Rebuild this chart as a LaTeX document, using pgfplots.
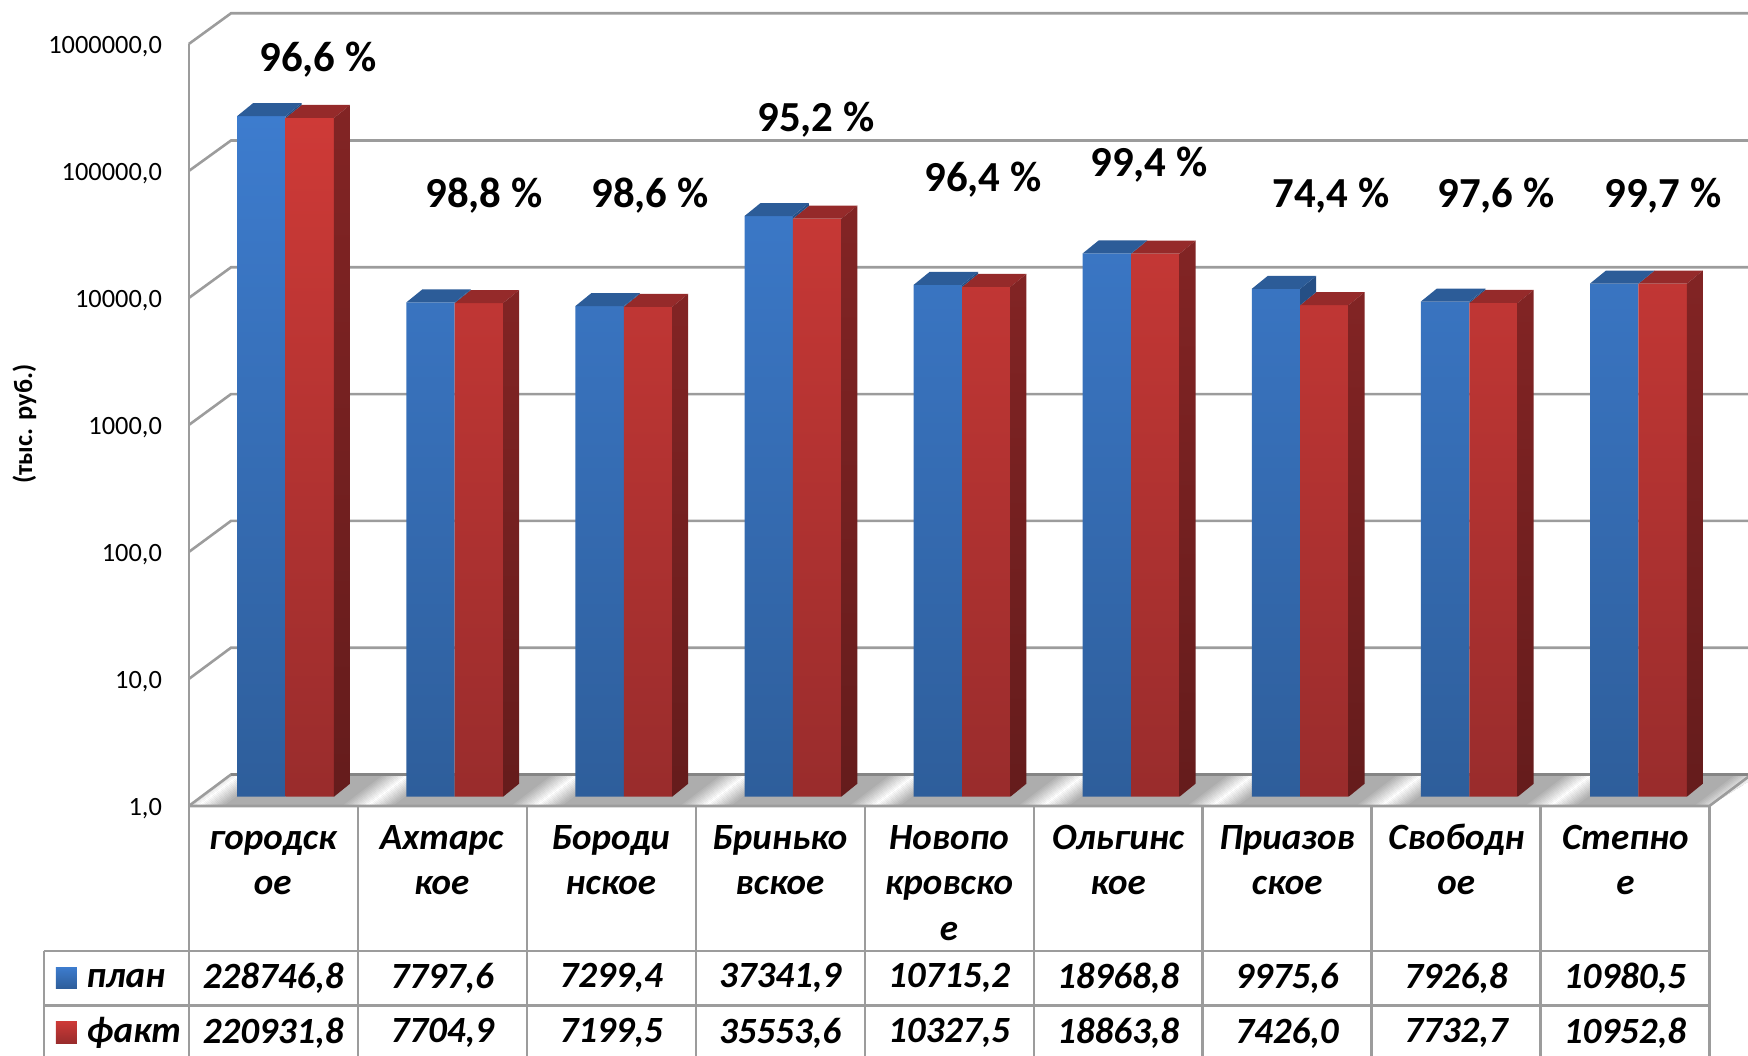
\documentclass[border=0pt]{standalone}
\usepackage{fontspec}
\setmainfont{Carlito}
\usepackage{pgfplots}
\usepackage{pgfplotstable}
\pgfplotsset{compat=1.18}
\definecolor{gridg}{HTML}{9C9C9C}
\definecolor{floorg}{HTML}{ADADAD}
\definecolor{btop}{HTML}{3D7CCE}
\definecolor{bbot}{HTML}{2E5E9B}
\definecolor{rtop}{HTML}{CE3A37}
\definecolor{rbot}{HTML}{992C2C}
\definecolor{bcap}{HTML}{2C5C98}
\definecolor{bside}{HTML}{254F85}
\definecolor{rcap}{HTML}{952A2A}
\definecolor{rsidet}{HTML}{822424}
\definecolor{rsideb}{HTML}{651C1C}
\pgfplotstableread{
i plan fact
0 228746.8 220931.8
1 7797.6 7704.9
2 7299.4 7199.5
3 37341.9 35553.6
4 10715.2 10327.5
5 18968.8 18863.8
6 9975.6 7426.0
7 7926.8 7732.7
8 10980.5 10952.8
}\datatable
\newcommand\lh{\rule{0pt}{14pt}}
\newcommand\caps[3]{%
  \fill[rcap] (axis cs:#1,#3) -- ++(8pt,6.5pt) -- ++(24.2pt,0pt) -- ++(-8pt,-6.5pt) -- cycle;
  \path[top color=rsidet,bottom color=rsideb] (axis cs:#1+0.2862,#3) -- ++(8pt,6.5pt) -- ([shift={(8pt,6.5pt)}]axis cs:#1+0.2862,1) -- (axis cs:#1+0.2862,1) -- cycle;
  \fill[bside] (axis cs:#1,#2) -- ++(8pt,6.5pt) -- ([shift={(8pt,6.5pt)}]axis cs:#1,#3) -- (axis cs:#1,#3) -- cycle;
  \fill[bcap] (axis cs:#1-0.2862,#2) -- ++(8pt,6.5pt) -- ++(24.2pt,0pt) -- ++(-8pt,-6.5pt) -- cycle;
}
\newcommand\vals[3]{%
  \node[font=\fontsize{18.5}{22}\selectfont\bfseries\itshape] at ({188.8+168.96*(#1+0.5)},978) {#2};
  \node[font=\fontsize{18.5}{22}\selectfont\bfseries\itshape] at ({188.8+168.96*(#1+0.5)},1033) {#3};
}
\begin{document}
\begin{tikzpicture}
\useasboundingbox (-100pt,-129.15pt) rectangle (774pt,398.35pt);
\begin{scope}[x=0.5pt,y=-0.5pt,shift={(-200,-796.7)}]
  % floor
  \begin{scope}
    \clip (188.8,806) -- (231,774.5) -- (1760,774.5) -- (1709.3,806) -- cycle;
    \fill[floorg] (188.8,806) -- (231,774.5) -- (1760,774.5) -- (1709.3,806) -- cycle;
    \foreach \k in {-1,...,9}{
      \foreach \t in {-10,...,10}{
        \pgfmathsetmacro\w{100*(1-abs(\t)/11)}
        \pgfmathsetmacro\X{366+169*\k+\t*2.4}
        \fill[white!\w!floorg] (\X,806) -- ({\X+2.6},806) -- ({\X+2.6+41},775) -- ({\X+41},775) -- cycle;
      }
    }
  \end{scope}
  % walls and grid
  \foreach \f/\b in {806/774.5,679/647.7,552/520.9,425/394.1,298/267.3,171/140.5,44/13.3}{
    \draw[gridg,line width=1.3pt] (188.8,\f) -- (231,\b) -- (1760,\b);
  }
  \draw[gridg!85!black,line width=1.3pt] (231,774.5) -- (1760,774.5);
  \draw[gridg,line width=1.1pt] (188.8,44) -- (188.8,1060);
  \draw[gridg,line width=1.3pt] (188.8,806) -- (1709.3,806) -- (1760,768);
\end{scope}
\begin{axis}[
  at={(0pt,0pt)},anchor=south west,
  scale only axis,width=760pt,height=381pt,
  ymode=log,ymin=1,ymax=1000000,
  xmin=-0.5062,xmax=8.4825,
  axis lines*=left,
  axis line style={draw=none},
  clip=false,
  major tick length=0pt,
  minor tick length=0pt,
  ybar=0pt,bar width=24.2pt,
  xtick={0,...,8},
  xticklabels={{\lh городск\\ое},{\lh Ахтарс\\кое},{\lh Бороди\\нское},{\lh Бринько\\вское},{\lh Новопо\\кровско\\е},{\lh Ольгинс\\кое},{\lh Приазов\\ское},{\lh Свободн\\ое},{\lh Степно\\е}},
  xticklabel style={align=center,anchor=north,xshift=-6.5pt,yshift=-8.7pt,font=\fontsize{18.5}{22.8}\selectfont\bfseries\itshape},
  ytick={1,10,100,1000,10000,100000,1000000},
  yticklabels={{1,0},{10,0},{100,0},{1000,0},{10000,0},{100000,0},{1000000,0}},
  yticklabel style={anchor=east,xshift=-15.5pt,yshift=-6pt,font=\fontsize{13.2}{16}\selectfont},
  ylabel={(тыс. руб.)},
  every axis y label/.append style={at={(axis description cs:-0.1155,0.489)},anchor=center,font=\fontsize{13.2}{15}\selectfont\bfseries},
]
\addplot[draw=none,top color=btop,bottom color=bbot] table[x=i,y=plan]{\datatable};
\addplot[draw=none,top color=rtop,bottom color=rbot] table[x=i,y=fact]{\datatable};
\caps{0}{228746.8}{220931.8}
\caps{1}{7797.6}{7704.9}
\caps{2}{7299.4}{7199.5}
\caps{3}{37341.9}{35553.6}
\caps{4}{10715.2}{10327.5}
\caps{5}{18968.8}{18863.8}
\caps{6}{9975.6}{7426.0}
\caps{7}{7926.8}{7732.7}
\caps{8}{10980.5}{10952.8}
\end{axis}
\begin{scope}[x=0.5pt,y=-0.5pt,shift={(-200,-796.7)}]
  % table
  \foreach \k in {1,...,9}{
    \draw[gridg,line width=1.1pt] ({188.8+168.96*\k},806) -- ({188.8+168.96*\k},1060);
  }
  \draw[gridg,line width=1.1pt] (44,950.7) -- (44,1060);
  \draw[gridg,line width=1.2pt] (44,950.7) -- (1709.3,950.7);
  \draw[gridg,line width=1.2pt] (44,1005.3) -- (1709.3,1005.3);
  \path[top color=btop,bottom color=bbot] (56,967) rectangle (77,988);
  \path[top color=rtop,bottom color=rbot] (56,1021) rectangle (77,1043);
  \node[anchor=west,inner sep=0pt,font=\fontsize{18.5}{22}\selectfont\bfseries\itshape] at (86,979) {план};
  \node[anchor=west,inner sep=0pt,font=\fontsize{18.5}{22}\selectfont\bfseries\itshape] at (86,1033) {факт};
  \vals{0}{228746,8}{220931,8}
  \vals{1}{7797,6}{7704,9}
  \vals{2}{7299,4}{7199,5}
  \vals{3}{37341,9}{35553,6}
  \vals{4}{10715,2}{10327,5}
  \vals{5}{18968,8}{18863,8}
  \vals{6}{9975,6}{7426,0}
  \vals{7}{7926,8}{7732,7}
  \vals{8}{10980,5}{10952,8}
  % percentages
  \foreach \x/\y/\t in {318/60/{96,6},484/196/{98,8},650/196/{98,6},816/120/{95,2},983/180/{96,4},1149/165/{99,4},1331/196/{74,4},1496/196/{97,6},1663/196/{99,7}}{
    \node[font=\fontsize{21.4}{25}\selectfont\bfseries] at (\x,\y) {\t\ \%};
  }
\end{scope}
\end{tikzpicture}
\end{document}
